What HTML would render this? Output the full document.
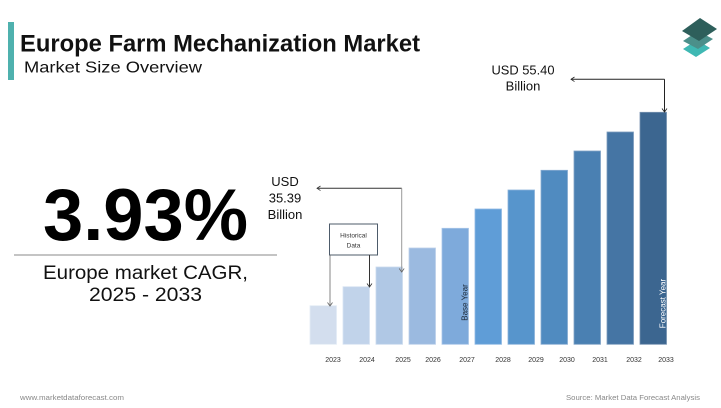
<!DOCTYPE html>
<html><head><meta charset="utf-8"><style>
html,body{margin:0;padding:0;background:#fff;}
svg{display:block;}
text{font-family:"Liberation Sans",sans-serif;}
</style></head><body>
<svg width="721" height="408" viewBox="0 0 721 408" xmlns="http://www.w3.org/2000/svg">
<rect width="721" height="408" fill="#fff"/>
<!-- header -->
<rect x="8" y="22" width="6" height="58" fill="#4fb1ae"/>
<text x="20" y="51.5" font-size="24" font-weight="bold" fill="#111" textLength="400" lengthAdjust="spacingAndGlyphs">Europe Farm Mechanization Market</text>
<text x="24" y="72.7" font-size="16" fill="#111" textLength="178" lengthAdjust="spacingAndGlyphs">Market Size Overview</text>
<!-- logo -->
<polygon points="683,49 697,40 710,48 696,57" fill="#3fb8b3"/>
<polygon points="683,41 698,31 713,39 698,49" fill="#4b8f8a"/>
<polygon points="682,31 700,18 717,29 699,41" fill="#2e5f5b"/>
<!-- CAGR -->
<text x="43" y="240" font-size="73" font-weight="bold" fill="#000" textLength="205" lengthAdjust="spacingAndGlyphs">3.93%</text>
<line x1="14" y1="255" x2="277" y2="255" stroke="#888" stroke-width="1"/>
<text x="43" y="279" font-size="19" fill="#111" textLength="205" lengthAdjust="spacingAndGlyphs">Europe market CAGR,</text>
<text x="89" y="301" font-size="19" fill="#111" textLength="113" lengthAdjust="spacingAndGlyphs">2025 - 2033</text>
<!-- bars -->
<rect x="310" y="305.7" width="26.5" height="38.6" fill="#d3deee" stroke="#e4ecf6" stroke-width="0.8"/>
<rect x="343" y="286.7" width="26.5" height="57.6" fill="#c1d3ea" stroke="#d8e4f3" stroke-width="0.8"/>
<rect x="376" y="267" width="26.5" height="77.3" fill="#b0c8e5" stroke="#cbdaee" stroke-width="0.8"/>
<rect x="409" y="248" width="26.5" height="96.3" fill="#9bbae0" stroke="#bcd0ea" stroke-width="0.8"/>
<rect x="442" y="228.3" width="26.5" height="116" fill="#7eaadb" stroke="#a8c5e8" stroke-width="0.8"/>
<rect x="475" y="209" width="26.5" height="135.3" fill="#5f9dd7" stroke="#8fb9e4" stroke-width="0.8"/>
<rect x="508" y="190" width="26.5" height="154.3" fill="#5795cc" stroke="#8ab2da" stroke-width="0.8"/>
<rect x="541" y="170.3" width="26.5" height="174" fill="#508bc0" stroke="#86abd1" stroke-width="0.8"/>
<rect x="574" y="151" width="26.5" height="193.3" fill="#4a80b2" stroke="#80a3c6" stroke-width="0.8"/>
<rect x="607" y="132" width="26.5" height="212.3" fill="#4575a4" stroke="#7c9cbd" stroke-width="0.8"/>
<rect x="640" y="112.3" width="26.5" height="232" fill="#3c6690" stroke="#7591b0" stroke-width="0.8"/>
<!-- rotated labels -->
<text transform="translate(467.5,302.5) rotate(-90)" font-size="8" fill="#1d2b3a" text-anchor="middle">Base Year</text>
<text transform="translate(665.5,303.5) rotate(-90)" font-size="8" fill="#fff" text-anchor="middle">Forecast Year</text>
<!-- year labels -->
<g font-size="7" fill="#333" text-anchor="middle">
<text x="333" y="362">2023</text>
<text x="367" y="362">2024</text>
<text x="403" y="362">2025</text>
<text x="433" y="362">2026</text>
<text x="467" y="362">2027</text>
<text x="503" y="362">2028</text>
<text x="536" y="362">2029</text>
<text x="567" y="362">2030</text>
<text x="600" y="362">2031</text>
<text x="634" y="362">2032</text>
<text x="666" y="362">2033</text>
</g>
<!-- Historical data box -->
<rect x="329.5" y="224" width="48" height="31" fill="#fff" stroke="#4d5b6a" stroke-width="1"/>
<text x="353.5" y="237.5" font-size="6.5" fill="#333" text-anchor="middle">Historical</text>
<text x="353.5" y="247.5" font-size="6.5" fill="#333" text-anchor="middle">Data</text>
<line x1="330" y1="255" x2="330" y2="306" stroke="#666" stroke-width="0.8"/>
<polyline points="327.5,302.5 330,306 332.5,302.5" fill="none" stroke="#666" stroke-width="0.8"/>
<line x1="369.5" y1="255" x2="369.5" y2="287" stroke="#333" stroke-width="1"/>
<polyline points="367,283.5 369.5,287 372,283.5" fill="none" stroke="#333" stroke-width="0.8"/>
<!-- 35.39 annotation -->
<line x1="317" y1="188.3" x2="401.7" y2="188.3" stroke="#333" stroke-width="1"/>
<polyline points="320.5,186 317,188.3 320.5,190.6" fill="none" stroke="#333" stroke-width="0.8"/>
<line x1="401.7" y1="188.3" x2="401.7" y2="272" stroke="#999" stroke-width="1"/>
<polyline points="399.2,268.5 401.7,272 404.2,268.5" fill="none" stroke="#666" stroke-width="0.8"/>
<g font-size="13" fill="#111" text-anchor="middle">
<text x="285" y="186">USD</text>
<text x="285" y="202.7">35.39</text>
<text x="285" y="219">Billion</text>
</g>
<!-- 55.40 annotation -->
<line x1="571" y1="79.3" x2="664.5" y2="79.3" stroke="#222" stroke-width="1"/>
<polyline points="574.5,77 571,79.3 574.5,81.6" fill="none" stroke="#222" stroke-width="0.8"/>
<line x1="664.5" y1="79.3" x2="664.5" y2="112" stroke="#222" stroke-width="1"/>
<polyline points="662,108.5 664.5,112 667,108.5" fill="none" stroke="#222" stroke-width="0.8"/>
<g font-size="13" fill="#111" text-anchor="middle">
<text x="523" y="74.3" textLength="63" lengthAdjust="spacingAndGlyphs">USD 55.40</text>
<text x="523" y="90.7">Billion</text>
</g>
<!-- footer -->
<text x="20" y="400" font-size="7.5" fill="#888" textLength="104" lengthAdjust="spacingAndGlyphs">www.marketdataforecast.com</text>
<text x="566" y="400" font-size="7.5" fill="#888" textLength="134" lengthAdjust="spacingAndGlyphs">Source: Market Data Forecast Analysis</text>
</svg>
</body></html>
